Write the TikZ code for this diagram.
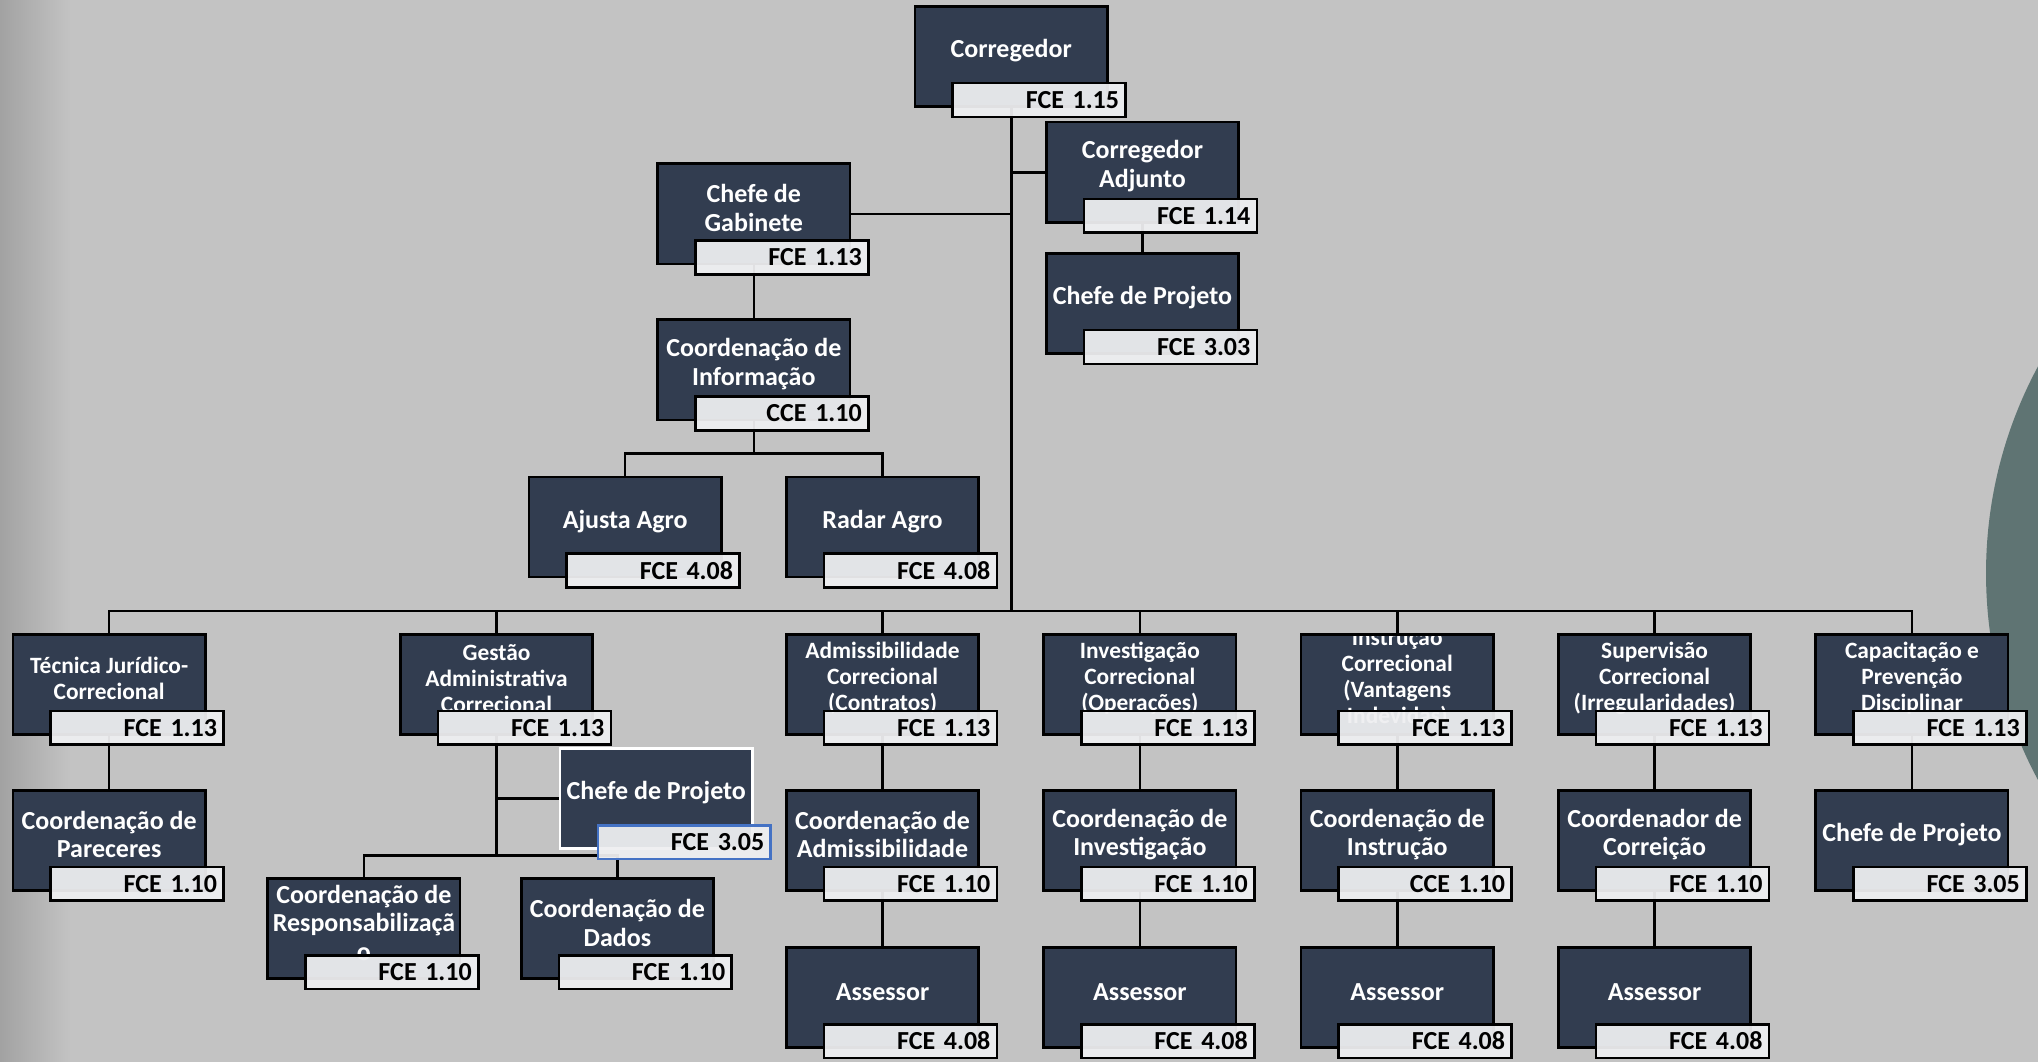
\documentclass[tikz,border=0pt]{standalone}
\usepackage{fontspec}
\setmainfont{Carlito}
\usetikzlibrary{calc}
\pgfdeclarelayer{bg}
\pgfdeclarelayer{conn}
\pgfsetlayers{bg,conn,main}
\definecolor{boxfill}{HTML}{323D50}
\definecolor{labelfill}{HTML}{EEEFF1}
\definecolor{bgc}{HTML}{C3C3C3}
\definecolor{bgdark}{HTML}{A2A2A2}
\definecolor{circc}{HTML}{5F7473}
\definecolor{selblue}{HTML}{4472C4}
\newcommand\bigtxt{\fontsize{10}{11}\selectfont\bfseries}
\newcommand\smalltxt{\fontsize{9}{10}\selectfont\bfseries}
\tikzset{
  mainbox/.style={rectangle,draw=black,line width=1pt,fill=boxfill,minimum width=74pt,minimum height=38.5pt,inner sep=0pt},
  boxtext/.style={text=white,align=center,inner sep=0pt},
  labelbox/.style={rectangle,draw=black,line width=1pt,fill=labelfill,fill opacity=0.94,text opacity=1,minimum height=13pt,text width=61.5pt,inner xsep=2.5pt,inner ysep=0pt,align=right,font=\bigtxt,text=black},
  conn/.style={draw=black,line width=1pt},
  selbox/.style={draw=white},
  sellabel/.style={draw=selblue}
}
% name, left, top, font, text, label, box style, label style
\newcommand\obox[8]{%
  \node[mainbox,#7,path picture={\node[boxtext,font=#4] at ([yshift=-17pt]path picture bounding box.north) {#5};}] (#1) at ({#2+74},{#3+38.5}) {};
  \node[labelbox,#8] (#1-l) at ({#2+95.5},{#3+72}) {#6};
}
\begin{document}
\begin{tikzpicture}[x=0.5pt,y=-0.5pt]
\useasboundingbox (0,0) rectangle (1568,817);
\begin{pgfonlayer}{bg}
  \fill[bgc] (0,0) rectangle (1568,817);
  \shade[left color=bgdark,right color=bgc] (0,0) rectangle (54,817);
  \begin{scope}
    \clip (0,0) rectangle (1568,817);
    \fill[circc] (1864,441) circle[radius=168pt];
  \end{scope}
\end{pgfonlayer}

% top part
\obox{corr}{704}{5}{\bigtxt}{Corregedor}{FCE 1.15}{}{}
\obox{adj}{805}{94}{\bigtxt}{Corregedor\\Adjunto}{FCE 1.14}{}{}
\obox{cpa}{805}{195}{\bigtxt}{Chefe de Projeto}{FCE 3.03}{}{}
\obox{gab}{506}{126}{\bigtxt}{Chefe de\\Gabinete}{FCE 1.13}{}{}
\obox{info}{506}{246}{\bigtxt}{Coordenação de\\Informação}{CCE 1.10}{}{}
\obox{ajusta}{407}{367}{\bigtxt}{Ajusta Agro}{FCE 4.08}{}{}
\obox{radar}{605}{367}{\bigtxt}{Radar Agro}{FCE 4.08}{}{}

% row 2
\obox{tec}{10}{488}{\smalltxt}{Técnica Jurídico-\\Correcional}{FCE 1.13}{}{}
\obox{ges}{308}{488}{\smalltxt}{Gestão\\Administrativa\\Correcional}{FCE 1.13}{}{}
\obox{adm}{605}{488}{\smalltxt}{Admissibilidade\\Correcional\\(Contratos)}{FCE 1.13}{}{}
\obox{inv}{803}{488}{\smalltxt}{Investigação\\Correcional\\(Operações)}{FCE 1.13}{}{}
\obox{ins}{1001}{488}{\smalltxt}{Instrução\\Correcional\\(Vantagens\\Indevidas)}{FCE 1.13}{}{}
\obox{sup}{1199}{488}{\smalltxt}{Supervisão\\Correcional\\(Irregularidades)}{FCE 1.13}{}{}
\obox{cap}{1397}{488}{\smalltxt}{Capacitação e\\Prevenção\\Disciplinar}{FCE 1.13}{}{}

% gestao subtree
\obox{cpg}{431}{576}{\bigtxt}{Chefe de Projeto}{FCE 3.05}{selbox}{sellabel}
\obox{resp}{206}{676}{\bigtxt}{Coordenação de\\Responsabilizaçã\\o}{FCE 1.10}{}{}
\obox{dados}{401}{676}{\bigtxt}{Coordenação de\\Dados}{FCE 1.10}{}{}

% row 3
\obox{par}{10}{608}{\bigtxt}{Coordenação de\\Pareceres}{FCE 1.10}{}{}
\obox{cadm}{605}{608}{\bigtxt}{Coordenação de\\Admissibilidade}{FCE 1.10}{}{}
\obox{cinv}{803}{608}{\bigtxt}{Coordenação de\\Investigação}{FCE 1.10}{}{}
\obox{cins}{1001}{608}{\bigtxt}{Coordenação de\\Instrução}{CCE 1.10}{}{}
\obox{ccor}{1199}{608}{\bigtxt}{Coordenador de\\Correição}{FCE 1.10}{}{}
\obox{cpc}{1397}{608}{\bigtxt}{Chefe de Projeto}{FCE 3.05}{}{}

% row 4
\obox{ass1}{605}{729}{\bigtxt}{Assessor}{FCE 4.08}{}{}
\obox{ass2}{803}{729}{\bigtxt}{Assessor}{FCE 4.08}{}{}
\obox{ass3}{1001}{729}{\bigtxt}{Assessor}{FCE 4.08}{}{}
\obox{ass4}{1199}{729}{\bigtxt}{Assessor}{FCE 4.08}{}{}

\coordinate (bus) at (777,470);
\coordinate (infobus) at (580,349);
\coordinate (gesbus) at (382,658);

\begin{pgfonlayer}{conn}
  \draw[conn] (corr.south) -- (corr.south |- bus);
  \draw[conn] (adj.west) -- (adj.west -| corr.south);
  \draw[conn] (gab.east) -- (gab.east -| corr.south);
  \draw[conn] (adj.south) -- (cpa.north);
  \draw[conn] (gab.south) -- (info.north);
  \draw[conn] (info.south) -- (infobus);
  \draw[conn] (ajusta.north) |- (infobus) -| (radar.north);
  \draw[conn] (tec.north) |- (cap.north |- bus) -- (cap.north);
  \draw[conn] (ges.north) -- (ges.north |- bus);
  \draw[conn] (adm.north) -- (adm.north |- bus);
  \draw[conn] (inv.north) -- (inv.north |- bus);
  \draw[conn] (ins.north) -- (ins.north |- bus);
  \draw[conn] (sup.north) -- (sup.north |- bus);
  \draw[conn] (ges.south) -- (gesbus);
  \draw[conn] (cpg.west) -- (cpg.west -| ges.south);
  \draw[conn] (resp.north) |- (gesbus) -| (dados.north);
  \draw[conn] (tec.south) -- (par.north);
  \draw[conn] (adm.south) -- (cadm.north);
  \draw[conn] (inv.south) -- (cinv.north);
  \draw[conn] (ins.south) -- (cins.north);
  \draw[conn] (sup.south) -- (ccor.north);
  \draw[conn] (cap.south) -- (cpc.north);
  \draw[conn] (cadm.south) -- (ass1.north);
  \draw[conn] (cinv.south) -- (ass2.north);
  \draw[conn] (cins.south) -- (ass3.north);
  \draw[conn] (ccor.south) -- (ass4.north);
\end{pgfonlayer}
\end{tikzpicture}
\end{document}
